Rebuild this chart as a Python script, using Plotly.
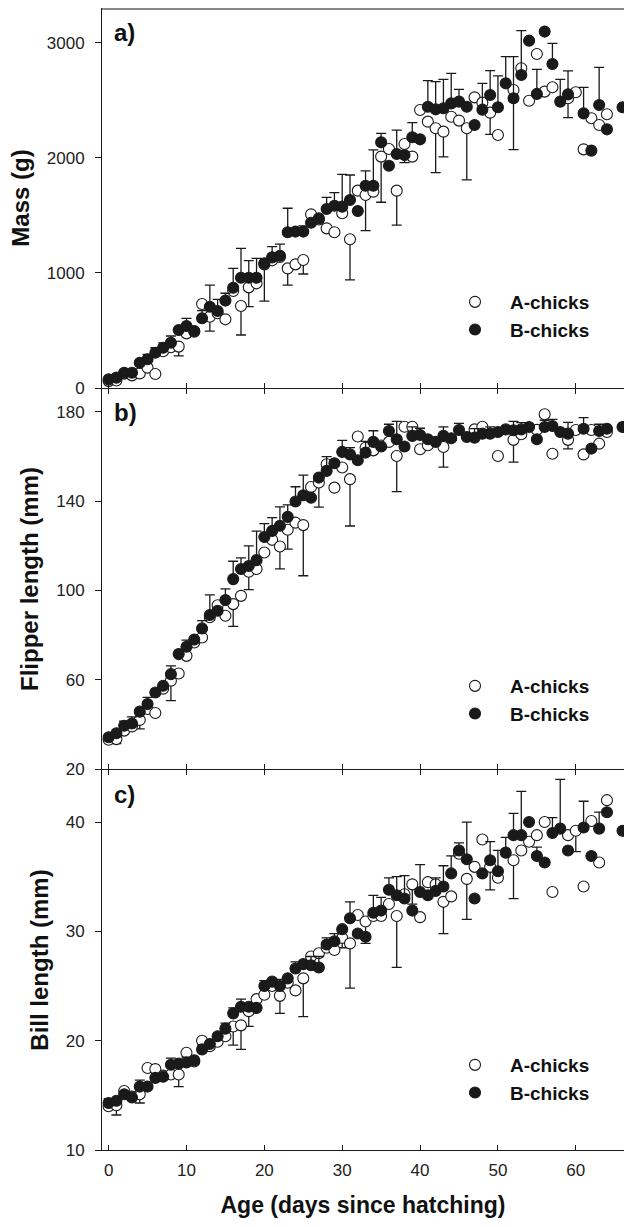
import plotly.graph_objects as go

N = None
days = list(range(67))

# ---------------- data ----------------
mass_A = [60, 65, 125, 110, 127, 177, 122, 320, 354, 360,
          475, 490, 730, 620, 650, 597, 843, 713, 875, 910,
          1075, 1110, 1140, 1040, 1075, 1113, 1510, 1465, 1388, 1354,
          1519, 1293, 1716, 1678, 1707, 2012, 2078, 1716, 2122, 2012,
          2417, 2316, 2258, 2229, 2359, 2325, 2258, 2527, 2481, 2394,
          2200, N, 2591, 2780, 2498, 2904, 2577, 2615, N, 2519,
          2571, 2075, 2345, 2287, 2380, N, N]
mass_B = [75, 90, 133, 133, 220, 250, 307, 350, 394, 504,
          539, 496, 606, 707, 670, 760, 872, 959, 959, 959,
          1084, 1136, 1150, 1354, 1360, 1360, 1437, 1475, 1557, 1585,
          1577, 1635, 1539, 1759, 1759, 2136, 1933, 2035, 2026, 2180,
          2162, 2446, 2423, 2432, 2475, 2490, 2446, 2287, 2420, 2548,
          2441, 2649, 2519, 2722, 3020, 2557, 3099, 2817, 2490, 2553,
          N, 2388, 2064, 2461, 2249, N, 2441]
mass_A_sd = {9: 81, 13: 125, 17: 252, 18: 168, 20: 320, 23: 145, 25: 122, 31: 353,
             33: 310, 35: 397, 37: 299, 38: 163, 42: 386, 43: 220, 46: 449, 49: 188,
             52: 519, 59: 168}
mass_B_sd = {5: 43, 6: 43, 7: 43, 8: 58, 10: 67, 12: 67, 13: 188, 14: 101, 15: 64,
             16: 168, 17: 255, 18: 148, 19: 168, 21: 93, 22: 101, 23: 209, 25: 50,
             28: 101, 29: 113, 30: 281, 31: 217, 33: 128, 34: 311, 35: 78, 37: 208,
             39: 128, 41: 226, 42: 241, 43: 252, 44: 261, 45: 107, 48: 229, 49: 211,
             50: 272, 51: 232, 52: 362, 53: 385, 55: 214, 57: 180, 58: 194, 59: 204,
             61: 226, 63: 327}

flip_A = [33.1, 33.4, 37.2, 39.1, 42.0, 46.9, 45.1, 56.0, 59.6, 62.8,
          70.7, 76.7, 78.9, 88.0, 93.4, 88.7, 93.9, 97.6, 108.4, 109.6,
          117.0, 122.7, 119.7, 127.2, 130.4, 129.3, 146.4, 148.4, 156.6, 146.1,
          155.1, 149.9, 169.0, 164.0, 162.8, 165.0, 166.6, 160.3, 173.4, 173.4,
          163.3, 165.1, N, 164.3, N, N, N, 172.2, 173.4, N,
          160.3, N, 167.5, 170.0, N, 172.0, 179.0, 161.3, N, 167.5,
          171.9, 161.0, 171.9, 165.8, 171.0, N, N]
flip_B = [34.2, 36.0, 39.4, 40.4, 45.7, 49.1, 54.3, 57.3, 62.5, 71.5,
          74.8, 78.0, 83.0, 89.0, 90.9, 95.7, 105.1, 109.6, 111.0, 113.6,
          124.0, 126.7, 129.0, 133.0, 139.9, 142.7, 141.6, 150.6, 153.6, 157.0,
          162.1, 161.0, 158.4, 161.8, 166.6, 164.5, 171.5, 167.8, 164.5, 169.3,
          169.7, 167.8, 166.6, 169.3, 168.2, 171.9, 168.8, 168.5, 170.3, 170.3,
          171.0, 172.2, 171.8, 172.2, 173.3, 167.8, 173.3, 173.7, 171.0, 170.3,
          N, 172.5, 163.6, 171.5, 172.5, N, 173.3]
flip_A_sd = {1: 2, 4: 4, 8: 9, 16: 10, 18: 8, 22: 10, 23: 8.7, 25: 22.7, 27: 11,
             31: 21, 37: 16, 43: 9, 52: 10, 59: 4}
flip_B_sd = {2: 2, 3: 3, 5: 3, 8: 3.7, 10: 3, 12: 3.5, 13: 9, 15: 5, 16: 8, 17: 5,
             18: 9, 19: 13, 20: 6, 21: 6, 22: 8.5, 23: 5.4, 24: 6.6, 25: 9, 28: 6.4,
             30: 5.2, 31: 3, 33: 5, 34: 5, 36: 3, 37: 8, 39: 4, 40: 3, 43: 4, 45: 3,
             47: 4, 49: 3, 52: 4, 53: 3, 56: 3, 57: 3, 59: 5, 61: 5, 63: 3}

bill_A = [14.0, 14.1, 15.4, 14.9, 15.1, 17.5, 17.4, 16.8, 16.9, 16.9,
          18.9, 18.1, 20.0, 19.5, 19.9, 20.4, 21.3, 21.4, 22.7, 23.8,
          24.2, 25.0, 24.1, 25.3, 24.6, 25.7, 27.7, 28.0, 28.5, 28.3,
          29.4, 28.9, 31.5, 30.9, 31.4, 31.4, 32.5, 31.4, 33.4, 34.3,
          31.3, 34.5, 34.3, 32.7, 33.2, 37.1, 34.8, 35.9, 38.4, 35.9,
          34.9, N, 36.5, 37.4, 38.2, 38.8, 40.0, 33.6, N, 38.8,
          39.2, 34.1, 40.1, 36.3, 42.0, N, N]
bill_B = [14.3, 14.5, 15.1, 14.8, 15.8, 15.8, 16.6, 16.7, 17.8, 17.9,
          18.0, 18.2, 19.2, 19.7, 20.4, 21.1, 22.5, 23.1, 23.1, 23.0,
          25.0, 25.4, 25.0, 25.7, 26.6, 27.0, 26.9, 26.7, 28.8, 29.1,
          30.2, 31.2, 29.8, 29.5, 31.7, 31.9, 33.8, 33.3, 33.0, 31.9,
          33.6, 33.3, 33.7, 34.1, 35.3, 37.4, 36.6, 33.0, 35.3, 36.5,
          35.5, 37.2, 38.8, 38.8, 40.0, 36.9, 36.3, 39.0, 39.4, 37.4,
          N, 39.5, 36.9, 39.4, 40.9, N, 39.2]
bill_A_sd = {1: 0.9, 4: 0.8, 9: 1.1, 16: 1.7, 17: 2.2, 18: 1.4, 22: 1.6, 25: 3.5,
             30: 0.9, 31: 4.1, 33: 2.0, 37: 4.7, 39: 1.8, 43: 2.9, 46: 3.7, 49: 2.1,
             52: 3.5, 60: 1.9}
bill_B_sd = {0: 0.4, 3: 0.5, 4: 0.6, 8: 0.6, 10: 0.5, 12: 0.4, 15: 0.5, 16: 0.5,
             17: 0.7, 20: 0.5, 22: 0.6, 24: 0.6, 26: 0.8, 27: 1.0, 28: 0.6, 29: 0.7,
             31: 1.5, 34: 1.6, 35: 1.2, 36: 1.1, 37: 1.7, 38: 2.1, 40: 2.5, 42: 1.2,
             43: 1.9, 44: 1.6, 45: 0.7, 46: 3.4, 49: 1.7, 50: 1.9, 51: 1.4, 52: 2.0,
             53: 4.0, 55: 0.8, 57: 1.4, 58: 4.5, 61: 2.4, 63: 1.5}

x_ticks = [0, 10, 20, 30, 40, 50, 60]
mass_ticks = [0, 1000, 2000, 3000]
flip_ticks = [20, 60, 100, 140, 180]
bill_ticks = [10, 20, 30, 40]
series_names = ["A-chicks", "B-chicks"]
y_titles = ["Mass (g)", "Flipper length (mm)", "Bill length (mm)"]
panel_labels = ["a)", "b)", "c)"]
x_title = "Age (days since hatching)"

# ---------------- figure ----------------
W, H = 624, 1227
OFF = 0            # page offset of the figure (body margin removed below)
ML = 102
FONT = "Liberation Sans, Arial, sans-serif"
INK = "#1a1a1a"
XR = [-0.85, 66.19]


def py(p):
    """screen-pixel y -> paper fraction"""
    return 1 - (p - OFF) / H


def px(p):
    """screen-pixel x -> paper fraction"""
    return (p - OFF - ML) / (W - ML)


def err_arrays(sd, direction):
    plus, minus = [], []
    for d in days:
        e = sd.get(d)
        if e is None:
            plus.append(None)
            minus.append(None)
        elif direction == "up":
            plus.append(e)
            minus.append(0)
        else:
            plus.append(0)
            minus.append(e)
    return plus, minus


panels = [
    (mass_A, mass_B, mass_A_sd, mass_B_sd, [0, 3304], mass_ticks, (8, 388)),
    (flip_A, flip_B, flip_A_sd, flip_B_sd, [20, 190.3], flip_ticks, (389, 769)),
    (bill_A, bill_B, bill_A_sd, bill_B_sd, [10, 44.76], bill_ticks, (770, 1150)),
]
legend_tops = [283, 667, 1046]

fig = go.Figure()
layout = {}
for i, (va, vb, sa, sb, yr, yt, (top, bot)) in enumerate(panels):
    n = "" if i == 0 else str(i + 1)
    leg = "legend" if i == 0 else "legend" + str(i + 1)
    pa, ma = err_arrays(sa, "down")
    pb, mb = err_arrays(sb, "up")
    common_err = dict(type="data", symmetric=False, color=INK, thickness=1.3, width=5)
    fig.add_trace(go.Scatter(
        x=days, y=va, mode="markers", name=series_names[0],
        xaxis="x" + n, yaxis="y" + n, legend=leg,
        marker=dict(symbol="circle", size=11, color="white", line=dict(color=INK, width=1.1)),
        error_y=dict(array=pa, arrayminus=ma, **common_err)))
    fig.add_trace(go.Scatter(
        x=days, y=vb, mode="markers", name=series_names[1],
        xaxis="x" + n, yaxis="y" + n, legend=leg,
        marker=dict(symbol="circle", size=11, color=INK, line=dict(color=INK, width=1.1)),
        error_y=dict(array=pb, arrayminus=mb, **common_err)))

    layout["yaxis" + n] = dict(
        domain=[py(bot), min(1.0, py(top))], range=yr, anchor="x" + n,
        tickmode="array", tickvals=yt, ticks="outside", ticklen=6, tickwidth=1,
        tickcolor=INK, showline=True, linecolor=INK, linewidth=1,
        showgrid=False, zeroline=False, automargin=False, ticklabelstandoff=7,
        tickfont=dict(family=FONT, size=17, color="#222"),
        title=dict(text="<b>%s</b>" % y_titles[i], standoff=10,
                   font=dict(family=FONT, size=24, color="#111")))
    xa = dict(
        domain=[0, 1], range=XR, anchor="y" + n,
        tickmode="array", tickvals=x_ticks, ticks="inside", ticklen=5, tickwidth=1,
        tickcolor=INK, showline=True, linecolor=INK, linewidth=1,
        showgrid=False, zeroline=False, automargin=False,
        showticklabels=(i == 2),
        tickfont=dict(family=FONT, size=17, color="#222"))
    if i > 0:
        xa["mirror"] = "ticks"
    if i == 2:
        xa["ticklabelstandoff"] = 5
        xa["title"] = dict(text="<b>%s</b>" % x_title, standoff=17,
                           font=dict(family=FONT, size=23, color="#111"))
    layout["xaxis" + n] = xa
    layout[leg] = dict(
        x=px(440), xanchor="left", y=py(legend_tops[i]), yanchor="top",
        bgcolor="rgba(0,0,0,0)", borderwidth=0, itemwidth=60,
        font=dict(family=FONT, size=19, color="#111", weight="bold"), tracegroupgap=0)

# outside half of the crossing ticks on the bottom axis
layout["xaxis4"] = dict(
    overlaying="x3", anchor="y3", range=XR, tickmode="array",
    tickvals=x_ticks, ticks="outside", ticklen=5, tickwidth=1, tickcolor=INK,
    showticklabels=False, showline=False, showgrid=False, zeroline=False)

annotations = []
for i, (lab, top) in enumerate(zip(panel_labels, [8, 389, 770])):
    annotations.append(dict(
        text="<b>%s</b>" % lab, x=px(112), y=py(top + 24), xref="paper", yref="paper",
        xanchor="left", yanchor="middle", showarrow=False,
        font=dict(family=FONT, size=24, color="#111")))

fig.update_layout(
    width=W, height=H, margin=dict(l=ML, r=0, t=0, b=0),
    paper_bgcolor="white", plot_bgcolor="white", template="none",
    annotations=annotations,
    shapes=[dict(type="line", xref="paper", yref="paper", x0=0, x1=1,
                 y0=py(9), y1=py(9), line=dict(color="#888", width=2))],
    **layout)

fig.write_html(
    "out.html",
    config={"displayModeBar": False},
    post_script="document.body.style.margin='0px';document.body.style.overflow='hidden';")
